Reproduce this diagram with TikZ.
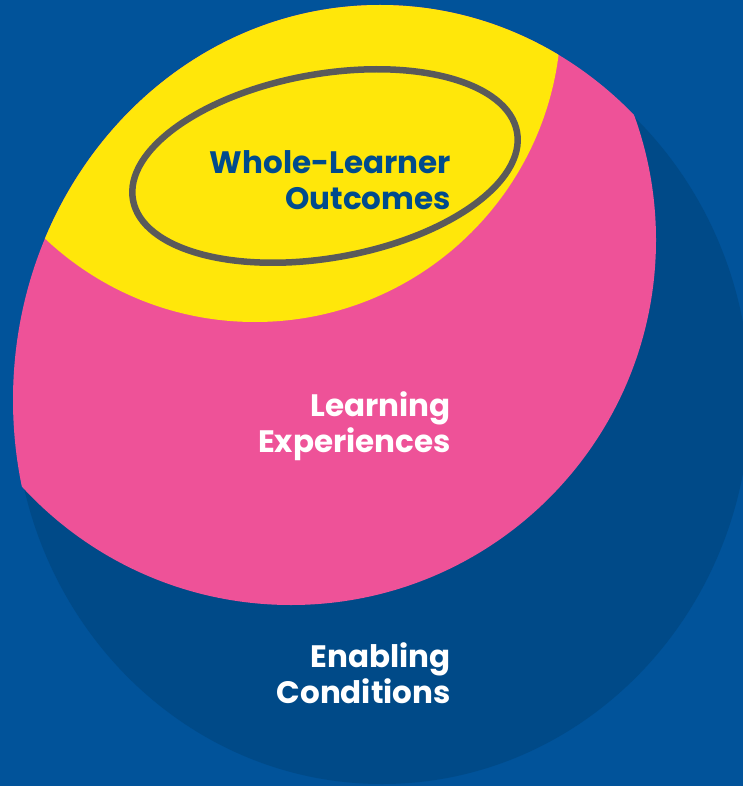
\documentclass[tikz,border=0pt]{standalone}
\usepackage{fontspec}
\newfontfamily\poppins{Poppins}
\definecolor{bgblue}{HTML}{01539A}
\definecolor{condblue}{HTML}{004A88}
\definecolor{expink}{HTML}{EE5298}
\definecolor{outyellow}{HTML}{FFE70A}
\definecolor{ringgray}{HTML}{5A5A5A}
\definecolor{textblue}{HTML}{004B8D}

\begin{document}
\begin{tikzpicture}[x=1pt,y=-1pt]
  \tikzset{LayerText/.style={font=\poppins\bfseries\fontsize{31}{36}\selectfont,
      align=right, anchor=base east, inner sep=0pt}}
  \fill[bgblue] (0,0) rectangle (743,786);
  \useasboundingbox (0,0) rectangle (743,786);
  % enabling conditions
  \fill[condblue] (382,398) ellipse[x radius=368pt, y radius=386pt];
  % experiences and outcomes, cut to the outer rim
  \begin{scope}
    \clip (380,400) ellipse[x radius=367pt, y radius=395pt];
    \fill[expink] (291,240) circle[radius=365pt];
    \fill[outyellow] (255,16) circle[radius=306pt];
  \end{scope}
  \draw[ringgray, line width=6.5pt, rotate around={10:(325,166)}]
    (325,166) ellipse[x radius=195pt, y radius=92pt];
  \node[LayerText, textblue] (outcomes) at (451,210) {Whole-Learner\\Outcomes};
  \node[LayerText, white] (experiences) at (451,452) {Learning\\Experiences};
  \node[LayerText, white] (conditions) at (451,703) {Enabling\\Conditions};
\end{tikzpicture}
\end{document}
